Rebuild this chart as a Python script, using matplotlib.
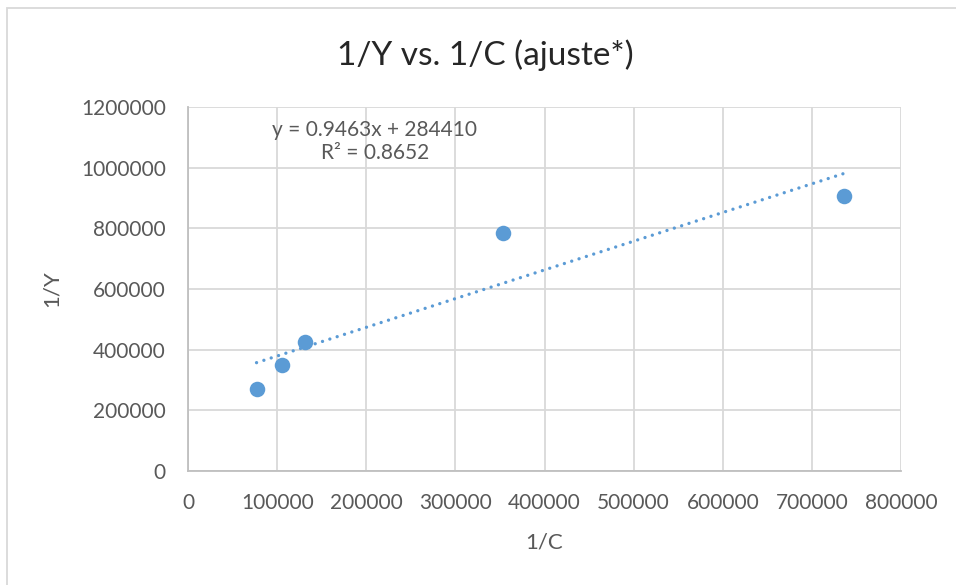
import numpy as np
import matplotlib.pyplot as plt
from matplotlib.patches import Rectangle

plt.rcParams['font.family'] = ['Lato', 'DejaVu Sans']

# Measured points
inv_c = [76850, 104940, 131460, 353930, 736400]
inv_y = [271300, 348200, 425100, 786100, 906900]

# Linear trendline as reported
slope = 0.9463
intercept = 284410
r2 = 0.8652

x_ticks = [0, 100000, 200000, 300000, 400000, 500000, 600000, 700000, 800000]
y_ticks = [0, 200000, 400000, 600000, 800000, 1000000, 1200000]

blue = '#5B9BD5'
grey_text = '#595959'
grid_col = '#D9D9D9'

fig = plt.figure(figsize=(9.56, 5.85), dpi=100)
ax = fig.add_axes([0.1967, 0.1949, 0.7458, 0.6222])

# chart frame
fig.patches.append(Rectangle((7 / 956, -0.1), 1.1, 1 - 8.5 / 585 + 0.1,
                             transform=fig.transFigure, fill=False,
                             edgecolor=grid_col, lw=1.3))

ax.scatter(inv_c, inv_y, s=125, color=blue, zorder=3, linewidths=0)

xt = np.array([min(inv_c), max(inv_c)])
ax.plot(xt, slope * xt + intercept, color=blue, lw=2.4,
        linestyle=(0, (0.01, 2.3)), dash_capstyle='round', zorder=2)

ax.set_xlim(0, 800000)
ax.set_ylim(0, 1200000)
ax.set_xticks(x_ticks)
ax.set_yticks(y_ticks)
ax.set_xticklabels([str(v) for v in x_ticks])
ax.set_yticklabels([str(v) for v in y_ticks])
ax.tick_params(length=0, labelsize=15, labelcolor=grey_text)
ax.tick_params(axis='x', pad=16)
ax.tick_params(axis='y', pad=16)
ax.grid(True, color=grid_col, lw=1.3)
ax.set_axisbelow(True)
for side in ['top', 'right']:
    ax.spines[side].set_visible(False)
for side in ['left', 'bottom']:
    ax.spines[side].set_color('#BFBFBF')
    ax.spines[side].set_linewidth(1.3)

ax.set_xlabel('1/C', fontsize=16, color=grey_text, labelpad=14)
ax.set_ylabel('1/Y', fontsize=16, color=grey_text, labelpad=14)
fig.text(0.508, 0.906, '1/Y vs. 1/C (ajuste*)', fontsize=24,
         color='#262626', ha='center', va='center')

ax.text(0.262, 0.965, f'y = {slope}x + {intercept}\nR² = {r2}',
        transform=ax.transAxes, ha='center', va='top', fontsize=15,
        color=grey_text, linespacing=1.2)

plt.savefig('out.png', dpi=100)
